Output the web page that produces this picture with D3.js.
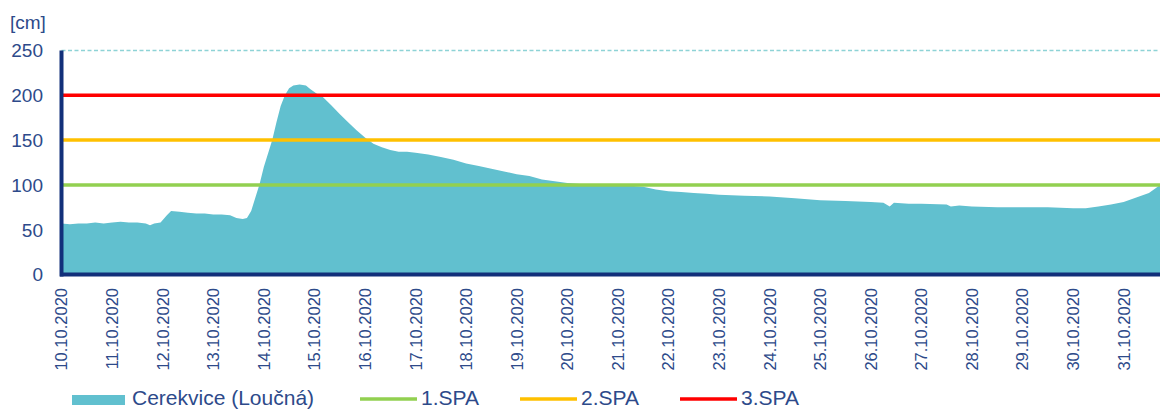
<!DOCTYPE html>
<html><head><meta charset="utf-8">
<script src="https://cdn.jsdelivr.net/npm/d3@7"></script>
<style>html,body{margin:0;padding:0;background:#fff;}svg{display:block;font-family:"Liberation Sans",Arial,sans-serif;}</style>
</head><body><svg id="c" width="1160" height="410"></svg>
<script>
const times = [
"2020-10-10 00:00","2020-10-10 04:00","2020-10-10 08:00","2020-10-10 12:00","2020-10-10 16:00","2020-10-10 20:00",
"2020-10-11 00:00","2020-10-11 04:00","2020-10-11 08:00","2020-10-11 12:00","2020-10-11 16:00","2020-10-11 18:00","2020-10-11 20:00","2020-10-11 23:00",
"2020-10-12 02:00","2020-10-12 04:00","2020-10-12 08:00","2020-10-12 12:00","2020-10-12 16:00","2020-10-12 20:00",
"2020-10-13 00:00","2020-10-13 04:00","2020-10-13 08:00","2020-10-13 11:00","2020-10-13 14:00","2020-10-13 16:00","2020-10-13 18:00","2020-10-13 20:00","2020-10-13 22:00",
"2020-10-14 00:00","2020-10-14 02:00","2020-10-14 04:00","2020-10-14 06:00","2020-10-14 08:00","2020-10-14 10:00","2020-10-14 12:00","2020-10-14 14:00","2020-10-14 17:00","2020-10-14 20:00","2020-10-14 22:00",
"2020-10-15 01:00","2020-10-15 04:00","2020-10-15 08:00","2020-10-15 12:00","2020-10-15 16:00","2020-10-15 20:00",
"2020-10-16 00:00","2020-10-16 04:00","2020-10-16 08:00","2020-10-16 12:00","2020-10-16 16:00","2020-10-16 20:00",
"2020-10-17 00:00","2020-10-17 06:00","2020-10-17 12:00","2020-10-17 18:00",
"2020-10-18 00:00","2020-10-18 06:00","2020-10-18 12:00","2020-10-18 18:00",
"2020-10-19 00:00","2020-10-19 06:00","2020-10-19 12:00","2020-10-19 18:00",
"2020-10-20 00:00","2020-10-20 06:00","2020-10-20 12:00","2020-10-20 18:00",
"2020-10-21 00:00","2020-10-21 06:00","2020-10-21 12:00","2020-10-21 18:00",
"2020-10-22 00:00","2020-10-22 06:00","2020-10-22 12:00","2020-10-22 18:00",
"2020-10-23 00:00","2020-10-23 12:00","2020-10-24 00:00","2020-10-24 12:00",
"2020-10-25 00:00","2020-10-25 12:00",
"2020-10-26 00:00","2020-10-26 06:00","2020-10-26 09:00","2020-10-26 11:00","2020-10-26 18:00",
"2020-10-27 00:00","2020-10-27 12:00","2020-10-27 14:00","2020-10-27 18:00",
"2020-10-28 00:00","2020-10-28 12:00","2020-10-29 00:00","2020-10-29 12:00",
"2020-10-30 00:00","2020-10-30 06:00","2020-10-30 12:00","2020-10-30 18:00",
"2020-10-31 00:00","2020-10-31 06:00","2020-10-31 12:00","2020-10-31 15:00","2020-10-31 17:15"
];
const levels = [
57,56,57,57,58,57,
58,59,58,58,57,55,57,58,
66,71,70,69,68,68,
67,67,66,63,62,63,71,86,101,
120,135,150,170,188,200,208,211,212,211,207,
202,198,189,179,170,161,
153,146,142,139,137,137,
136,134,131,128,
124,121,118,115,
112,110,106,104,
102,101,100,100,
99,99,98,95,
93,92,91,90,
89,88,87,85,
83,82,
81,80,76,80,79,
79,78,76,77,
76,75,75,75,
74,74,76,78,
81,86,91,96,100
];
const tickLabels = ["10.10.2020","11.10.2020","12.10.2020","13.10.2020","14.10.2020","15.10.2020","16.10.2020","17.10.2020","18.10.2020","19.10.2020","20.10.2020","21.10.2020","22.10.2020","23.10.2020","24.10.2020","25.10.2020","26.10.2020","27.10.2020","28.10.2020","29.10.2020","30.10.2020","31.10.2020"];
const yTicks = [0,50,100,150,200,250];
const seriesName = "Cerekvice (Loučná)";
const spaNames = ["1.SPA","2.SPA","3.SPA"];
const spaLevels = [100,150,200];
const spaColors = ["#92d050","#ffc000","#ff0000"];

const svg = d3.select("#c");
const parseT = d3.timeParse("%Y-%m-%d %H:%M");
const parseL = d3.timeParse("%d.%m.%Y");
const data = times.map((t,i)=>({t:parseT(t), v:levels[i]}));

const x = d3.scaleTime().domain([data[0].t, data[data.length-1].t]).range([61.5, 1160]);
const y = d3.scaleLinear().domain([0,250]).range([274.5, 50.5]);
const navy = "#12307a", lab = "#2d4a8a";

svg.append("line").attr("x1",61.5).attr("x2",1160).attr("y1",y(250)).attr("y2",y(250))
  .attr("stroke","#8ed3d6").attr("stroke-width",1.5).attr("stroke-dasharray","4,2.5");

svg.append("path").datum(data)
  .attr("d", d3.area().x(d=>x(d.t)).y0(y(0)).y1(d=>y(d.v)))
  .attr("fill","#61c0cf");

spaLevels.forEach((lv,i)=>{
  svg.append("line").attr("x1",61.5).attr("x2",1160).attr("y1",y(lv)).attr("y2",y(lv))
    .attr("stroke",spaColors[i]).attr("stroke-width",3.5);
});

svg.append("line").attr("x1",61.5).attr("x2",61.5).attr("y1",y(250)).attr("y2",y(0)+2)
  .attr("stroke",navy).attr("stroke-width",4);
svg.append("line").attr("x1",60).attr("x2",1160).attr("y1",y(0)).attr("y2",y(0))
  .attr("stroke",navy).attr("stroke-width",4);

svg.selectAll(".yl").data(yTicks).enter().append("text")
  .attr("x",43).attr("y",d=>y(d)).attr("dy","0.36em").attr("text-anchor","end")
  .attr("font-size",19).attr("fill",lab).text(d=>d);
svg.append("text").attr("x",10).attr("y",29).attr("font-size",19).attr("fill",lab).text("[cm]");

svg.selectAll(".xl").data(tickLabels).enter().append("text")
  .attr("transform",d=>`translate(${x(parseL(d))},288) rotate(-90)`)
  .attr("dy","0.36em").attr("text-anchor","end")
  .attr("font-size",16.5).attr("fill",lab).text(d=>d);

const lg = svg.append("g");
lg.append("rect").attr("x",72).attr("y",395).attr("width",53).attr("height",10).attr("fill","#61c0cf");
lg.append("text").attr("x",132).attr("y",405).attr("font-size",21).attr("fill",lab).text(seriesName);
const lx = [360,520,680];
spaNames.forEach((n,i)=>{
  lg.append("line").attr("x1",lx[i]).attr("x2",lx[i]+57).attr("y1",399).attr("y2",399)
    .attr("stroke",spaColors[i]).attr("stroke-width",3.5);
  lg.append("text").attr("x",lx[i]+61).attr("y",405).attr("font-size",21).attr("fill",lab).text(n);
});
</script></body></html>
